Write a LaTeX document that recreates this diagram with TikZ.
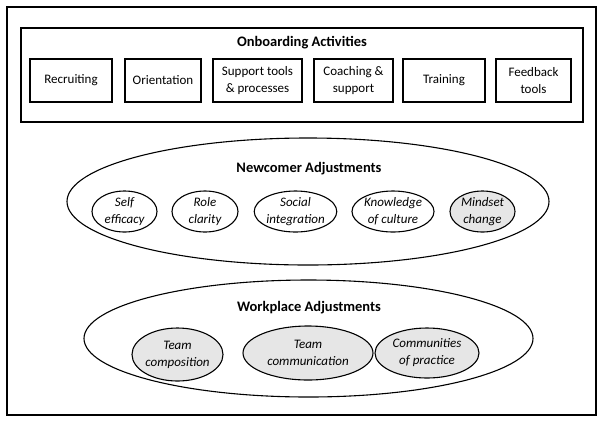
\documentclass[tikz,border=0pt]{standalone}
\usepackage{fontspec}
\setmainfont{Carlito}
\usepackage{tikz}
\usetikzlibrary{positioning,shapes.geometric}
\definecolor{softgray}{RGB}{230,230,230}

\begin{document}
\begin{tikzpicture}[x=1pt,y=-1pt,
  every node/.style={font=\fontsize{13}{17}\selectfont, align=center},
  actbox/.style={draw, line width=1.1pt, minimum height=43pt, inner sep=0pt},
  adjell/.style={draw, ellipse, line width=1.1pt, inner sep=0pt, font=\fontsize{13}{17}\selectfont\itshape},
  grpell/.style={draw, ellipse, line width=1.1pt, inner sep=0pt},
  heading/.style={font=\fontsize{14.5}{17}\selectfont\bfseries}]
\useasboundingbox (0,0) rectangle (609,424);
\draw[line width=1.2pt] (7,7) rectangle (596,415);
\node[draw, line width=1.1pt, minimum width=562pt, minimum height=94pt, inner sep=0pt] (onb) at (302,75) {};
\node[heading] (onbtitle) at (302,43) {Onboarding Activities};
\node[actbox, minimum width=82pt] (recr) at (71,80.5) {Recruiting};
\node[actbox, minimum width=76pt] (orient) at (163,80.5) {Orientation};
\node[actbox, minimum width=89pt] (suptools) at (257.5,80.5) {Support tools\\\& processes};
\node[actbox, minimum width=79pt] (coach) at (353.5,80.5) {Coaching \&\\support};
\node[actbox, minimum width=82pt] (train) at (444,80.5) {Training};
\node[actbox, minimum width=75pt] (feedb) at (533.5,80.5) {Feedback\\tools};

\node[grpell, minimum width=482pt, minimum height=127pt] (newc) at (308,201.5) {};
\node[heading] (newctitle) at (309,169) {Newcomer Adjustments};
\node[adjell, minimum width=65pt, minimum height=41pt] (selfeff) at (124.5,211.5) {Self\\efficacy};
\node[adjell, minimum width=66pt, minimum height=41pt] (role) at (205,211.5) {Role\\clarity};
\node[adjell, minimum width=75pt, minimum height=41pt] (social) at (295.5,211.5) {Social\\integration};
\node[adjell, minimum width=76pt, minimum height=41pt] (knowl) at (393,211.5) {Knowledge\\of culture};
\node[adjell, fill=softgray, minimum width=65pt, minimum height=41pt] (mindset) at (482.5,211.5) {Mindset\\change};

\node[grpell, minimum width=449pt, minimum height=117pt] (workp) at (308.5,338.5) {};
\node[heading] (workptitle) at (309,308) {Workplace Adjustments};
\node[adjell, fill=softgray, minimum width=91pt, minimum height=53pt] (teamcomp) at (177.5,354.5) {Team\\composition};
\node[adjell, fill=softgray, minimum width=130pt, minimum height=54pt] (teamcomm) at (308,353) {Team\\communication};
\node[adjell, fill=softgray, minimum width=104pt, minimum height=50pt] (commprac) at (427,353) {Communities\\of practice};
\end{tikzpicture}
\end{document}
